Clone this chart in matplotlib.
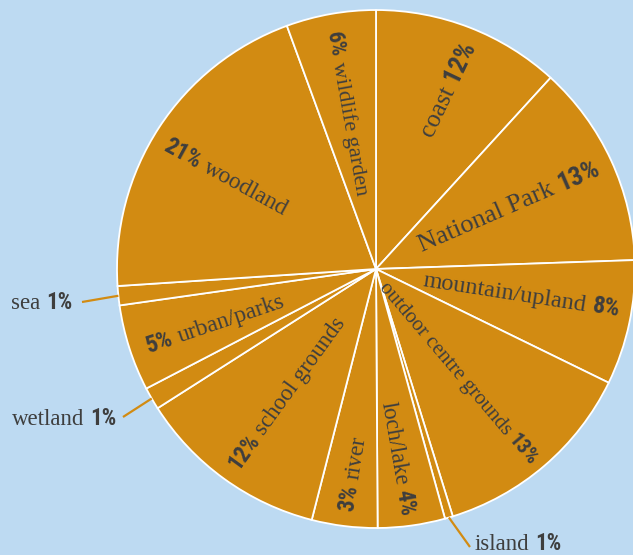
import numpy as np
import matplotlib
matplotlib.use("Agg")
import matplotlib.pyplot as plt
from matplotlib import font_manager as fm
from matplotlib.font_manager import FontProperties

# ---------------- data ----------------
categories = ["coast", "National Park", "mountain/upland", "outdoor centre grounds",
              "island", "loch/lake", "river", "school grounds", "wetland",
              "urban/parks", "sea", "woodland", "wildlife garden"]
shares = [11.8, 12.7, 7.8, 13.0, 0.5, 4.2, 4.1, 12.0, 1.4, 5.4, 1.2, 20.5, 5.6]
pct_labels = ["12%", "13%", "8%", "13%", "1%", "4%", "3%", "12%", "1%",
              "5%", "1%", "21%", "6%"]

# ---------------- style ----------------
W, H, DPI = 633, 555, 100
CX, CY, R_PX = 376, 269, 259          # pie centre / radius in pixels
BG = "#BDDAF2"
SLICE = "#D28B12"
TXT = "#3e3e3e"

inside = [True, True, True, True, False, True, True, True, False, True, False, True, True]
sizes = [18.5, 19, 17.5, 15, 0, 16.5, 16.5, 16.5, 0, 17, 0, 17, 16]
pos_off = [-1, 0, 2.7, -1.3, 0, -0.6, 0, 0, 0, 0.8, 0, 2.2, 0]
rot_off = [-4.3, -1.3, 3.2, -0.3, 0, 1.9, -2, 0, 0, 0.9, 0, 4.3, 0]
r_out = [0.945, 0.945, 0.955, 0.965, 0, 0.96, 0.94, 0.945, 0, 0.935, 0, 0.945, 0.93]

# outside labels: (pixel x, pixel y of text centre, align, leader end px)
outside = {
    "sea": (72, 302, "right", (82, 302)),
    "wetland": (116, 418, "right", (123, 417)),
    "island": (475, 543, "left", (470, 547)),
}
OUT_FS = 16.5

serif_family = ["Liberation Serif", "DejaVu Serif"]
names_avail = {f.name for f in fm.fontManager.ttflist}


def _is_bold(wt):
    if isinstance(wt, (int, float)):
        return wt >= 600
    return str(wt).lower() in ("bold", "semibold", "demibold", "demi", "heavy", "extra bold", "black")


_cond = [f for f in fm.fontManager.ttflist
         if "condensed" in str(f.stretch).lower() and _is_bold(f.weight)]
_pref = ["Liberation Sans Narrow", "Roboto Condensed", "Open Sans Condensed",
         "DejaVu Sans Condensed"]


def pct_fp(size):
    for nm in _pref:
        if nm in names_avail:
            return FontProperties(family=nm, weight="bold", size=size)
    if _cond:
        return FontProperties(fname=_cond[0].fname, size=size)
    return FontProperties(family=["Roboto", "Liberation Sans", "DejaVu Sans"],
                          weight="bold", size=size)


fig = plt.figure(figsize=(W / DPI, H / DPI), dpi=DPI, facecolor=BG)
ax = fig.add_axes([0, 0, 1, 1])
ax.set_facecolor(BG)
wedges, _ = ax.pie(shares, startangle=90, counterclock=False,
                   colors=[SLICE] * len(shares), radius=1,
                   wedgeprops=dict(edgecolor="white", linewidth=1.3))
ax.set_xlim(-CX / R_PX, (W - CX) / R_PX)
ax.set_ylim(-(H - CY) / R_PX, CY / R_PX)
ax.set_aspect("equal")
ax.axis("off")

renderer = fig.canvas.get_renderer()


def d(px):
    return px / R_PX


def px2data(x, y):
    return (x - CX) / R_PX, (CY - y) / R_PX


def width(s, fp):
    w, h, dsc = renderer.get_text_width_height_descent(s, fp, ismath=False)
    return w


for i, name in enumerate(categories):
    if not inside[i]:
        continue
    w = wedges[i]
    mid = 0.5 * (w.theta1 + w.theta2)
    pos = np.radians(mid + pos_off[i])
    line = mid + rot_off[i]
    fs = sizes[i]
    fs_px = fs * DPI / 72
    nfp = FontProperties(family=serif_family, size=fs)
    pfp = pct_fp(fs)
    wp = width(pct_labels[i], pfp)
    gap = 0.25 * fs_px
    px_, py_ = r_out[i] * np.cos(pos), r_out[i] * np.sin(pos)
    if np.cos(np.radians(line)) > 0:
        rot, sign, ha = line, -1, "right"
    else:
        rot, sign, ha = line - 180, 1, "left"
    rr = np.radians(rot)
    ux, uy = np.cos(rr), np.sin(rr)
    nx, ny = -np.sin(rr), np.cos(rr)
    sh = 0.3 * fs_px
    ax0, ay0 = px_ - nx * d(sh), py_ - ny * d(sh)
    ax.text(ax0, ay0, pct_labels[i], rotation=rot, rotation_mode="anchor",
            ha=ha, va="baseline", fontproperties=pfp, color=TXT)
    bx = ax0 + sign * ux * d(wp + gap)
    by = ay0 + sign * uy * d(wp + gap)
    ax.text(bx, by, name, rotation=rot, rotation_mode="anchor",
            ha=ha, va="baseline", fontproperties=nfp, color=TXT)

for i, name in enumerate(categories):
    if inside[i]:
        continue
    tx, ty, align, lend = outside[name]
    w = wedges[i]
    mid = np.radians(0.5 * (w.theta1 + w.theta2))
    sx, sy = np.cos(mid), np.sin(mid)
    ex, ey = px2data(*lend)
    ax.plot([sx, ex], [sy, ey], color=SLICE, lw=1.6, solid_capstyle="butt")
    fs_px = OUT_FS * DPI / 72
    nfp = FontProperties(family=serif_family, size=OUT_FS)
    pfp = pct_fp(OUT_FS)
    gap = 0.25 * fs_px
    bx, by = px2data(tx, ty + 0.3 * fs_px)
    if align == "right":
        wp = width(pct_labels[i], pfp)
        ax.text(bx, by, pct_labels[i], ha="right", va="baseline", fontproperties=pfp, color=TXT)
        ax.text(bx - d(wp + gap), by, name, ha="right", va="baseline", fontproperties=nfp, color=TXT)
    else:
        wn = width(name, nfp)
        ax.text(bx, by, name, ha="left", va="baseline", fontproperties=nfp, color=TXT)
        ax.text(bx + d(wn + gap), by, pct_labels[i], ha="left", va="baseline", fontproperties=pfp, color=TXT)

fig.savefig("out.png", dpi=DPI, facecolor=BG)
